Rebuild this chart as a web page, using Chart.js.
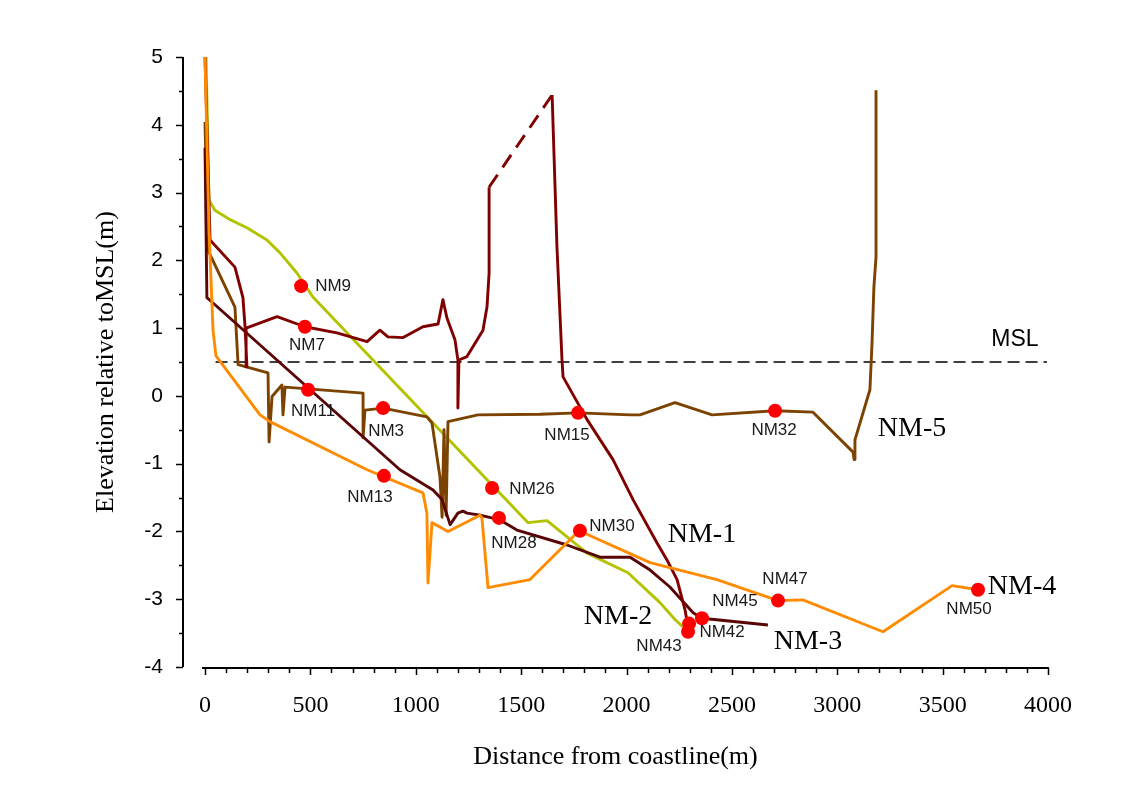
<!DOCTYPE html>
<html><head><meta charset="utf-8">
<script src="https://cdn.jsdelivr.net/npm/chart.js@4.4.1/dist/chart.umd.min.js"></script>
<style>html,body{margin:0;padding:0;background:#fff}canvas{display:block}</style>
</head><body>
<canvas id="c" width="1143" height="788"></canvas>
<script>
// ---------- data ----------
const X_TICKS = [0, 500, 1000, 1500, 2000, 2500, 3000, 3500, 4000];
const Y_TICKS = [-4, -3, -2, -1, 0, 1, 2, 3, 4, 5];

const NM1_X = [0, 24, 142, 180, 190, 199, 195, 342, 474, 626, 769, 830, 868, 940, 1034, 1106, 1129, 1148, 1186, 1200, 1200, 1205, 1243, 1319, 1338, 1348, 1348, 1647, 1670, 1694, 1699, 1813, 1936, 2031, 2145, 2192, 2240, 2278, 2292];
const NM1_Y = [5.0, 2.30, 1.90, 1.45, 1.02, 0.43, 1.0, 1.17, 1.02, 0.93, 0.80, 0.97, 0.87, 0.86, 1.02, 1.06, 1.42, 1.15, 0.83, 0.53, -0.18, 0.53, 0.58, 0.97, 1.31, 1.81, 3.08, 4.44, 2.20, 0.53, 0.28, -0.35, -0.94, -1.53, -2.17, -2.42, -2.71, -3.16, -3.41];

const NM2_X = [5, 19, 47, 119, 199, 294, 356, 437, 512, 1352, 1533, 1623, 1813, 2007, 2159, 2230, 2282];
const NM2_Y = [5.0, 2.89, 2.74, 2.60, 2.48, 2.30, 2.11, 1.81, 1.46, -1.28, -1.87, -1.84, -2.32, -2.61, -3.05, -3.30, -3.45];

const NM3_X = [0, 9, 38, 925, 1082, 1125, 1163, 1200, 1224, 1243, 1305, 1400, 1480, 1718, 1874, 2017, 2112, 2206, 2316, 2358, 2671];
const NM3_Y = [3.66, 1.45, 1.37, -1.09, -1.39, -1.53, -1.90, -1.73, -1.70, -1.73, -1.76, -1.83, -1.98, -2.20, -2.38, -2.38, -2.57, -2.82, -3.20, -3.28, -3.38];

const NM4_X = [0, 19, 38, 52, 261, 308, 769, 1034, 1053, 1058, 1077, 1153, 1305, 1314, 1343, 1542, 1775, 2112, 2429, 2719, 2837, 3217, 3545, 3668];
const NM4_Y = [5.0, 2.45, 0.97, 0.59, -0.28, -0.38, -1.09, -1.43, -1.73, -2.76, -1.87, -2.00, -1.76, -1.80, -2.83, -2.71, -1.99, -2.46, -2.71, -3.02, -3.01, -3.48, -2.80, -2.86];

const NM5_X = [0, 14, 119, 142, 157, 299, 304, 318, 365, 370, 380, 750, 750, 759, 845, 1053, 1077, 1115, 1125, 1134, 1144, 1153, 1295, 1590, 1770, 2017, 2064, 2230, 2406, 2705, 2885, 3075, 3080, 3084, 3155, 3165, 3174, 3184, 3184];
const NM5_Y = [4.04, 2.15, 1.46, 1.31, 0.46, 0.34, -0.68, -0.01, 0.16, -0.28, 0.13, 0.04, -0.62, -0.21, -0.18, -0.31, -0.40, -1.20, -1.79, -0.50, -1.76, -0.38, -0.28, -0.27, -0.25, -0.28, -0.28, -0.10, -0.28, -0.22, -0.24, -0.83, -0.94, -0.65, 0.09, 0.78, 1.61, 2.05, 4.51];

const MSL_X = [50, 3995];
const MSL_Y = [0.5, 0.5];

const MARKER_NAMES = ['NM9', 'NM7', 'NM11', 'NM3', 'NM13', 'NM15', 'NM26', 'NM28', 'NM30', 'NM32', 'NM45', 'NM42', 'NM43', 'NM47', 'NM50'];
const MARKER_X = [456, 474, 489, 845, 849, 1770, 1362, 1395, 1779, 2705, 2358, 2297, 2292, 2719, 3668];
const MARKER_Y = [1.62, 1.02, 0.09, -0.18, -1.18, -0.25, -1.36, -1.80, -1.99, -0.22, -3.28, -3.36, -3.48, -3.02, -2.86];

const SERIES_NAMES = ['NM-1', 'NM-2', 'NM-3', 'NM-4', 'NM-5'];
const SERIES_LABEL_X = [2358, 1960, 2861, 3877, 3355];
const SERIES_LABEL_Y = [-2.04, -3.26, -3.63, -2.82, -0.49];

// ---------- styles ----------
const COLORS = { nm1: '#800000', nm2: '#b3c300', nm3: '#5a0505', nm4: '#ff8c00', nm5: '#7c4200', marker: '#ff0000' };
const NM1_DASH_FROM = 26; // segment drawn dashed
const MARKER_LABEL_OFFSETS = [[32,0],[2,19],[5,22],[3,23],[-14,21],[-11,22],[40,1],[15,25],[32,-4],[-1,20],[33,-17],[33,9],[-29,15],[7,-21],[-9,20]];

const pts = (xs, ys) => xs.map((x, i) => ({ x: x, y: ys[i] }));
function lineDs(label, xs, ys, color, order, extra) {
  return Object.assign({
    label, data: pts(xs, ys), showLine: true, borderColor: color, backgroundColor: color,
    borderWidth: 2.9, pointRadius: 0, pointHoverRadius: 0, tension: 0, order: order,
    borderJoinStyle: 'round', borderCapStyle: 'butt'
  }, extra || {});
}

const axesPlugin = {
  id: 'axesPlugin',
  afterDraw(chart) {
    const { ctx, chartArea, scales: { x, y } } = chart;
    ctx.save();
    ctx.strokeStyle = '#000';
    ctx.lineWidth = 2;
    const ax = Math.round(chartArea.left);
    const yTop = y.getPixelForValue(Y_TICKS[Y_TICKS.length - 1]);
    const yBot = y.getPixelForValue(Y_TICKS[0]);
    ctx.beginPath(); ctx.moveTo(ax, yTop); ctx.lineTo(ax, yBot); ctx.stroke();
    ctx.lineWidth = 1.5;
    for (let v = Y_TICKS[0]; v <= Y_TICKS[Y_TICKS.length - 1] + 1e-9; v += 0.5) {
      const py = Math.round(y.getPixelForValue(v)) + 0.5;
      const len = Number.isInteger(v) ? 7 : 4;
      ctx.beginPath(); ctx.moveTo(ax - len, py); ctx.lineTo(ax, py); ctx.stroke();
    }
    const ay = Math.round(chartArea.bottom) + 1;
    const x0 = x.getPixelForValue(X_TICKS[0]);
    const x1 = x.getPixelForValue(X_TICKS[X_TICKS.length - 1]);
    ctx.lineWidth = 2;
    ctx.beginPath(); ctx.moveTo(x0 - 3, ay); ctx.lineTo(x1 + 1, ay); ctx.stroke();
    ctx.lineWidth = 1.5;
    for (let v = X_TICKS[0]; v <= X_TICKS[X_TICKS.length - 1]; v += 100) {
      const px = Math.round(x.getPixelForValue(v)) + 0.5;
      const len = v % 500 === 0 ? 7 : 5;
      ctx.beginPath(); ctx.moveTo(px, ay); ctx.lineTo(px, ay + len); ctx.stroke();
    }
    ctx.restore();
  }
};

const textPlugin = {
  id: 'textPlugin',
  afterDatasetsDraw(chart) {
    const { ctx, scales: { x, y } } = chart;
    ctx.save();
    ctx.textAlign = 'center';
    ctx.textBaseline = 'middle';
    ctx.fillStyle = '#000';
    ctx.font = '28px "Liberation Serif"';
    SERIES_NAMES.forEach((n, i) => ctx.fillText(n, x.getPixelForValue(SERIES_LABEL_X[i]), y.getPixelForValue(SERIES_LABEL_Y[i])));
    ctx.font = '23px "Liberation Sans"';
    ctx.fillText('MSL', x.getPixelForValue(3843), y.getPixelForValue(0.83));
    ctx.font = '17px "Liberation Sans"';
    ctx.fillStyle = '#1a1a1a';
    MARKER_NAMES.forEach((n, i) => {
      const px = x.getPixelForValue(MARKER_X[i]) + MARKER_LABEL_OFFSETS[i][0];
      const py = y.getPixelForValue(MARKER_Y[i]) + MARKER_LABEL_OFFSETS[i][1];
      ctx.fillText(n, px, py);
    });
    ctx.restore();
  }
};

new Chart(document.getElementById('c'), {
  type: 'scatter',
  data: {
    datasets: [
      { label: 'markers', data: pts(MARKER_X, MARKER_Y), pointRadius: 7, pointHoverRadius: 7,
        backgroundColor: COLORS.marker, borderColor: COLORS.marker, borderWidth: 0, showLine: false, order: 0 },
      lineDs('MSL', MSL_X, MSL_Y, '#000', 7, { borderWidth: 1.3, borderDash: [12, 6] }),
      lineDs('NM-2', NM2_X, NM2_Y, COLORS.nm2, 5),
      lineDs('NM-5', NM5_X, NM5_Y, COLORS.nm5, 4),
      lineDs('NM-3', NM3_X, NM3_Y, COLORS.nm3, 3),
      lineDs('NM-1', NM1_X, NM1_Y, COLORS.nm1, 2, {
        segment: { borderDash: ctx => ctx.p0DataIndex === NM1_DASH_FROM ? [15, 9] : undefined }
      }),
      lineDs('NM-4', NM4_X, NM4_Y, COLORS.nm4, 1)
    ]
  },
  options: {
    responsive: false,
    animation: false,
    events: [],
    layout: { padding: { top: 57, right: 95, bottom: 0, left: 0 } },
    plugins: { legend: { display: false }, tooltip: { enabled: false } },
    scales: {
      x: {
        type: 'linear', min: -104.4, max: 4000,
        grid: { display: false, drawTicks: false },
        border: { display: false },
        ticks: { font: { family: 'Liberation Serif', size: 24 }, color: '#000', padding: 24, autoSkip: false, maxRotation: 0,
          callback: v => String(v) },
        afterBuildTicks: s => { s.ticks = X_TICKS.map(v => ({ value: v })); },
        afterFit: s => { s.height = 121; s.paddingLeft = 0; s.paddingRight = 0; },
        title: { display: true, text: 'Distance from coastline(m)', color: '#000',
          font: { family: 'Liberation Serif', size: 26 }, padding: { top: 0, bottom: 15 } }
      },
      y: {
        type: 'linear', min: -4, max: 5,
        grid: { display: false, drawTicks: false },
        border: { display: false },
        ticks: { font: { family: 'Liberation Sans', size: 21 }, color: '#000', padding: 20, stepSize: 1,
          callback: v => String(v) },
        afterBuildTicks: s => { s.ticks = Y_TICKS.map(v => ({ value: v })); },
        afterFit: s => { s.width = 183; s.paddingTop = 0; s.paddingBottom = 0; },
        title: { display: true, text: 'Elevation relative toMSL(m)', color: '#000',
          font: { family: 'Liberation Serif', size: 26 }, padding: { top: 91, bottom: 0 } }
      }
    }
  },
  plugins: [axesPlugin, textPlugin]
});
</script>
</body></html>
